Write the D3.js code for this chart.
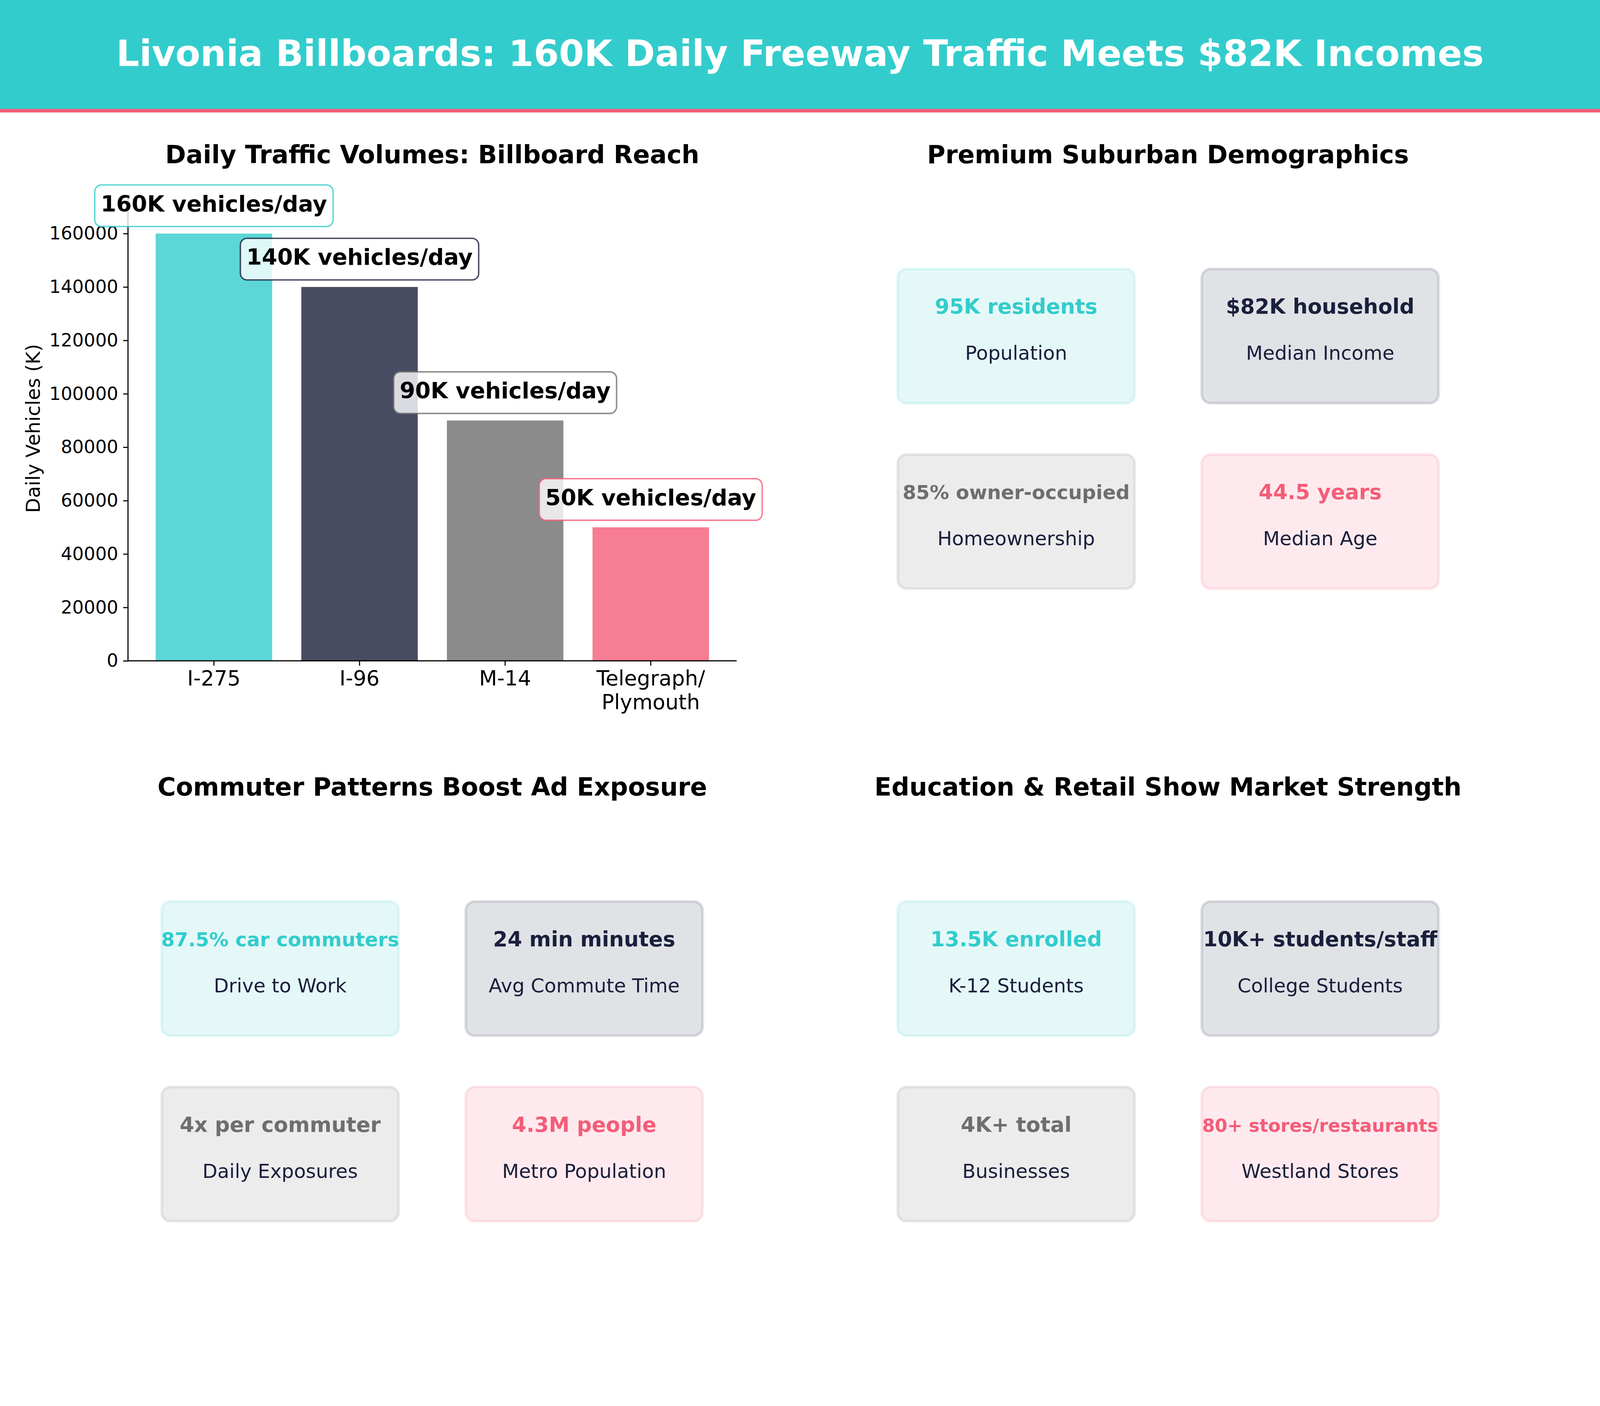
<!DOCTYPE html>
<html>
<head>
<meta charset="utf-8">
<script src="https://cdn.jsdelivr.net/npm/d3@7"></script>
<style>
  html, body { margin: 0; padding: 0; background: #fff; overflow: hidden; }
  svg { display: block; }
  text { font-family: "DejaVu Sans", sans-serif; }
</style>
</head>
<body>
<svg></svg>
<script>
const teal = '#33CCCC';
const navy = '#1A1F3C';
const gray = '#6E6E6E';
const pink = '#F45D78';

const roads = ['I-275', 'I-96', 'M-14', 'Telegraph/\nPlymouth'];
const vehicles = [160000, 140000, 90000, 50000];
const vehicleLabels = ['160K vehicles/day', '140K vehicles/day', '90K vehicles/day', '50K vehicles/day'];
const yTicks = [0, 20000, 40000, 60000, 80000, 100000, 120000, 140000, 160000];
const cardColors = [teal, navy, gray, pink];

const titleText = 'Livonia Billboards: 160K Daily Freeway Traffic Meets $82K Incomes';
const panelTitles = [
    'Daily Traffic Volumes: Billboard Reach',
    'Premium Suburban Demographics',
    'Commuter Patterns Boost Ad Exposure',
    'Education & Retail Show Market Strength'
];

const demoValues = ['95K residents', '$82K household', '85% owner-occupied', '44.5 years'];
const demoLabels = ['Population', 'Median Income', 'Homeownership', 'Median Age'];
const demoSizes = [62.5, 62.5, 58.3, 62.5];

const commuteValues = ['87.5% car commuters', '24 min minutes', '4x per commuter', '4.3M people'];
const commuteLabels = ['Drive to Work', 'Avg Commute Time', 'Daily Exposures', 'Metro Population'];
const commuteSizes = [58.3, 62.5, 62.5, 62.5];

const marketValues = ['13.5K enrolled', '10K+ students/staff', '4K+ total', '80+ stores/restaurants'];
const marketLabels = ['K-12 Students', 'College Students', 'Businesses', 'Westland Stores'];
const marketSizes = [62.5, 62.5, 62.5, 54.2];

// layout is measured on a 4800x3600 design, the window may be smaller
const W = window.innerWidth;
const H = window.innerHeight;
const sx = W / 4800;
const sy = H / 3600;
const fs = Math.min(sx, sy);

// keeps a text centred on its design line when the font scales differently from y
const baseline = (b, size) => (b - 0.36 * size) * sy + 0.36 * size * fs;

const svg = d3.select('svg').attr('width', W).attr('height', H);

// banner
svg.append('rect').attr('width', W).attr('height', 279 * sy).attr('fill', teal);
svg.append('rect').attr('y', 279 * sy).attr('width', W).attr('height', 9 * sy).attr('fill', pink);
svg.append('text')
    .attr('x', 2400 * sx).attr('y', baseline(175, 108.8))
    .attr('text-anchor', 'middle')
    .attr('font-size', 108.8 * fs)
    .attr('font-weight', 'bold')
    .attr('fill', '#fff')
    .text(titleText);

const panelTitle = (x, y, text) => svg.append('text')
    .attr('x', x * sx).attr('y', baseline(y, 75))
    .attr('text-anchor', 'middle')
    .attr('font-size', 75 * fs)
    .attr('font-weight', 'bold')
    .attr('fill', '#000')
    .text(text);

panelTitle(1297, 422, panelTitles[0]);
panelTitle(3504, 422, panelTitles[1]);
panelTitle(1297, 2041, panelTitles[2]);
panelTitle(3504, 2041, panelTitles[3]);

// bar chart
const x = d3.scaleBand()
    .domain(roads)
    .range([384 * sx, 2210 * sx])
    .paddingInner(0.2)
    .paddingOuter(0.19);

const y = d3.scaleLinear()
    .domain([0, 174000])
    .range([1692 * sy, 502.3 * sy]);

const color = d3.scaleOrdinal().domain(roads).range(cardColors);

svg.selectAll('.bar')
    .data(roads)
    .join('rect')
    .attr('class', 'bar')
    .attr('x', d => x(d))
    .attr('width', x.bandwidth())
    .attr('y', (d, i) => y(vehicles[i]))
    .attr('height', (d, i) => y(0) - y(vehicles[i]))
    .attr('fill', d => color(d))
    .attr('fill-opacity', 0.8);

const yAxis = svg.append('g')
    .attr('transform', `translate(${384 * sx},0)`)
    .call(d3.axisLeft(y).tickValues(yTicks).tickFormat(d3.format('d')).tickSize(14.6 * fs).tickPadding(14.6 * fs));
yAxis.selectAll('text').attr('font-size', 54.2 * fs).attr('font-family', '"DejaVu Sans"').attr('fill', '#000');

const xAxis = svg.append('g')
    .attr('transform', `translate(0,${1692 * sy})`)
    .call(d3.axisBottom(x).tickSize(14.6 * fs).tickPadding(14.6 * fs));
xAxis.selectAll('text')
    .attr('font-size', 62.5 * fs)
    .attr('font-family', '"DejaVu Sans"')
    .attr('fill', '#000')
    .attr('dy', null)
    .attr('y', 74 * fs)
    .each(function (d) {
        const lines = d.split('\n');
        const t = d3.select(this).text(null);
        lines.forEach((line, i) => {
            t.append('tspan').attr('x', 0).attr('dy', i ? 71 * fs : 0).text(line);
        });
    });

[yAxis, xAxis].forEach(axis => {
    axis.select('.domain').attr('stroke', '#000').attr('stroke-width', 3.3 * fs);
    axis.selectAll('.tick line').attr('stroke', '#000').attr('stroke-width', 3.3 * fs);
});
// mpl style spines: no tick caps on the axis path
yAxis.select('.domain').attr('d', `M0,${y.range()[0]}V${y.range()[1]}`);
xAxis.select('.domain').attr('d', `M${x.range()[0]},0H${x.range()[1]}`);

svg.append('text')
    .attr('transform', `translate(${119 * sx},${1097 * sy}) rotate(-90)`)
    .attr('text-anchor', 'middle')
    .attr('font-size', 58.3 * fs)
    .attr('fill', '#000')
    .text('Daily Vehicles (K)');

// value callouts
const callouts = svg.selectAll('.callout')
    .data(roads)
    .join('g')
    .attr('class', 'callout');

callouts.each(function (d, i) {
    const g = d3.select(this);
    const cx = x(d) + x.bandwidth() / 2;
    const top = y(vehicles[i]);
    const rect = g.append('rect');
    const label = g.append('text')
        .attr('x', cx).attr('y', top + baseline(-53, 66.7))
        .attr('text-anchor', 'middle')
        .attr('font-size', 66.7 * fs)
        .attr('font-weight', 'bold')
        .attr('fill', '#000')
        .text(vehicleLabels[i]);
    const w = label.node().getComputedTextLength() + 36 * fs;
    rect.attr('x', cx - w / 2).attr('y', top - 124.5 * sy)
        .attr('width', w).attr('height', 106.5 * sy)
        .attr('rx', 20 * fs).attr('ry', 20 * fs)
        .attr('fill', '#fff').attr('fill-opacity', 0.8)
        .attr('stroke', color(d)).attr('stroke-opacity', 0.8)
        .attr('stroke-width', 4.2 * fs);
});

// stat cards
const CARD_W = 711;
const CARD_H = 344;
const drawCards = (left, top, values, labels, sizes) => {
    const cards = svg.append('g').selectAll('g')
        .data(values)
        .join('g')
        .attr('transform', (d, i) => `translate(${(left + (i % 2) * 912) * sx},${(top + Math.floor(i / 2) * 475) * sy})`);
    cards.append('rect')
        .attr('width', CARD_W * sx).attr('height', CARD_H * sy)
        .attr('rx', 27 * fs).attr('ry', 27 * fs)
        .attr('fill', (d, i) => cardColors[i]).attr('fill-opacity', 0.13)
        .attr('stroke', (d, i) => cardColors[i]).attr('stroke-opacity', 0.13)
        .attr('stroke-width', 8.3 * fs);
    cards.append('text')
        .attr('x', CARD_W / 2 * sx).attr('y', (d, i) => baseline(118, sizes[i]))
        .attr('text-anchor', 'middle')
        .attr('font-size', (d, i) => sizes[i] * fs)
        .attr('font-weight', 'bold')
        .attr('fill', (d, i) => cardColors[i])
        .text(d => d);
    cards.append('text')
        .attr('x', CARD_W / 2 * sx).attr('y', baseline(236, 58.3))
        .attr('text-anchor', 'middle')
        .attr('font-size', 58.3 * fs)
        .attr('fill', navy)
        .text((d, i) => labels[i]);
};

drawCards(2693, 688.5, demoValues, demoLabels, demoSizes);
drawCards(485, 2308, commuteValues, commuteLabels, commuteSizes);
drawCards(2693, 2308, marketValues, marketLabels, marketSizes);
</script>
</body>
</html>
